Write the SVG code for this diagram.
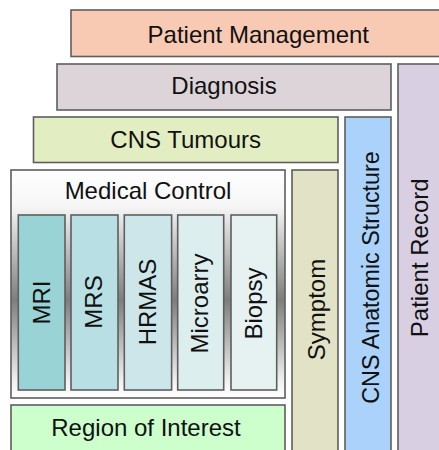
<svg xmlns="http://www.w3.org/2000/svg" width="439" height="450" viewBox="0 0 439 450">
<defs>
<linearGradient id="mcGrad" x1="0" y1="0" x2="0" y2="1">
<stop offset="0" stop-color="#ffffff"/>
<stop offset="0.16" stop-color="#f6f6f6"/>
<stop offset="0.57" stop-color="#7e7e7e"/>
<stop offset="0.93" stop-color="#f2f2f2"/>
<stop offset="1" stop-color="#ffffff"/>
</linearGradient>
</defs>
<style>
rect{stroke:#5e5e5e;stroke-width:1.6}
text{font-family:"Liberation Sans",Arial,sans-serif;font-size:24px;fill:#111;text-anchor:middle}
</style>
<rect x="0" y="0" width="439" height="450" fill="#ffffff" style="stroke:none"/>
<g id="patient-management"><rect x="71" y="10" width="380" height="46.5" fill="#f8cab4"/><text x="258.3" y="42.5">Patient Management</text></g>
<g id="diagnosis"><rect x="57" y="64" width="334" height="46" fill="#ddd4d9"/><text x="224" y="94.3">Diagnosis</text></g>
<g id="patient-record"><rect x="398" y="64" width="50" height="400" fill="#d8d0e2"/><text transform="translate(428.3,257.8) rotate(-90)">Patient Record</text></g>
<g id="cns-tumours"><rect x="33.5" y="117" width="304.5" height="45.5" fill="#e2eec2"/><text x="185.7" y="147.7">CNS Tumours</text></g>
<g id="cns-anatomic-structure"><rect x="345" y="117" width="46" height="350" fill="#aad2fb"/><text transform="translate(379.3,277.5) rotate(-90)" style="font-size:23.3px">CNS Anatomic Structure</text></g>
<g id="symptom"><rect x="292" y="170" width="46" height="300" fill="#e2e2c6"/><text transform="translate(325,309.5) rotate(-90)">Symptom</text></g>
<g id="medical-control"><rect x="11" y="170" width="274" height="228" fill="url(#mcGrad)"/><text x="148" y="199.3">Medical Control</text>
<g id="mri"><rect x="18.3" y="215" width="46.7" height="175" fill="#99d3d6"/><text transform="translate(50,302.5) rotate(-90)">MRI</text></g>
<g id="mrs"><rect x="71" y="215" width="47" height="175" fill="#b8dfe3"/><text transform="translate(101.7,302) rotate(-90)">MRS</text></g>
<g id="hrmas"><rect x="124.3" y="215" width="47.3" height="175" fill="#cce6ea"/><text transform="translate(155.7,302) rotate(-90)">HRMAS</text></g>
<g id="microarry"><rect x="177.7" y="215" width="46" height="175" fill="#ddeeee"/><text transform="translate(208.3,303.5) rotate(-90)">Microarry</text></g>
<g id="biopsy"><rect x="231" y="215" width="45.7" height="175" fill="#e6f2f2"/><text transform="translate(261.7,303.5) rotate(-90)">Biopsy</text></g>
</g>
<g id="region-of-interest"><rect x="11" y="405" width="274" height="60" fill="#ccffcc"/><text x="146" y="435.7">Region of Interest</text></g>
<g id="connectors"/>
</svg>
